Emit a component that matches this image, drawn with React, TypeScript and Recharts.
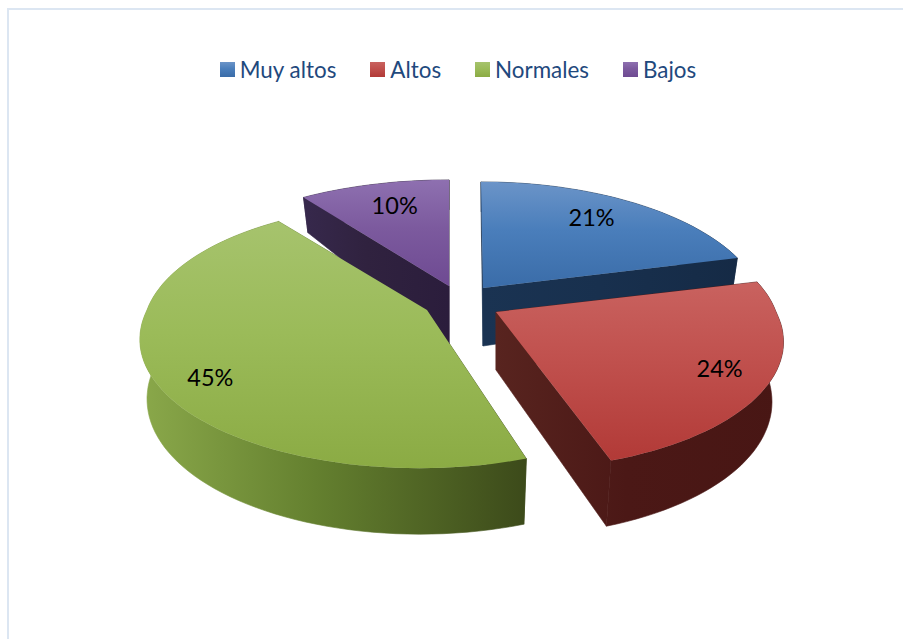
import { Legend, Pie, PieChart } from "recharts";

const categories = ["Muy altos", "Altos", "Normales", "Bajos"];
const shares = [21, 24, 45, 10];

// 3D look: pie plane is projected by hand, recharts only gives the angles
const CX = 460;
const CY = 300;
const RY = 127;
const PERSPECTIVE = 0.197;
const radiiX = [276, 280, 280, 287];
const explode = [
	[23, -12],
	[36, 12],
	[-33, 10],
	[-11, -14],
];
// sideways lean of each slice at the front and back, the original camera is slightly rotated
const leanFront = [0, 9, -7.5, 0];
const leanBack = [-2, 10, -8, 0];
const wallShrink = [0.97, 0.96, 0.975, 0.97];
const labelSpots = [
	[0.67, 7, -10],
	[0.84, -4, 0],
	[0.8, 1, 17],
	[0.75, 4, -2],
];
const topStops = [
	["#6b94c8", "#4a7ebb", "#3a6ca8"],
	["#c9625f", "#c0504d", "#b23a37"],
	["#a6c36d", "#9bbb59", "#8bab44"],
	["#8e70b0", "#7c5a9e", "#6e4a92"],
];
const sideStops = [
	["#1a3352", "#18304e", "#152a45"],
	["#58241f", "#4b1816", "#481614"],
	["#8aa84a", "#64802f", "#3c4a1a"],
	["#37294d", "#30223f", "#2b1d3c"],
];
const sideRanges = [
	[0, 260],
	[0, 290],
	[-285, 100],
	[-150, 0],
];

const data = categories.map((name, i) => ({
	name,
	value: shares[i],
	fill: `url(#top${i})`,
}));

function project(i: number, angle: number, r = 1) {
	const rad = (angle * Math.PI) / 180;
	const u = r * Math.cos(rad);
	const v = r * Math.sin(rad);
	const w = 1 / (1 + PERSPECTIVE * v);
	const lean = v < 0 ? -v * leanFront[i] : v * leanBack[i];
	return { x: radiiX[i] * u * w + lean, y: -RY * v * w, v };
}

function arcPoints(i: number, a: number, b: number) {
	const steps = Math.max(2, Math.ceil(Math.abs(a - b) / 2));
	const pts = [];
	for (let s = 0; s <= steps; s++) pts.push(project(i, a + ((b - a) * s) / steps));
	return pts;
}

function drop(i: number, p: { x: number; y: number; v: number }) {
	const depth = p.v >= 0 ? 58 - 28 * p.v : 58 - 8 * p.v;
	return { x: p.x * wallShrink[i], y: p.y + depth, v: p.v };
}

const toPath = (pts: { x: number; y: number }[]) =>
	"M" + pts.map((p) => `${p.x.toFixed(1)},${p.y.toFixed(1)}`).join("L") + "Z";

function TopFace(props: any) {
	const i = categories.indexOf(props.name);
	const [dx, dy] = explode[i];
	const apex = { x: 0, y: 0, v: 0 };
	const pts = [apex, ...arcPoints(i, props.startAngle, props.endAngle)];
	return (
		<path
			d={toPath(pts)}
			fill={`url(#top${i})`}
			transform={`translate(${CX + dx},${CY + dy})`}
		/>
	);
}

function SideFaces(props: any) {
	const i = categories.indexOf(props.name);
	const [dx, dy] = explode[i];
	const apex = { x: 0, y: 0, v: 0 };
	const arc = arcPoints(i, props.startAngle, props.endAngle);
	const first = arc[0];
	const last = arc[arc.length - 1];
	const fill = `url(#side${i})`;
	return (
		<g
			transform={`translate(${CX + dx},${CY + dy})`}
			fill={fill}
			stroke={fill}
			strokeWidth={0.6}
		>
			<path d={toPath([apex, first, drop(i, first), drop(i, apex)])} />
			<path d={toPath([apex, last, drop(i, last), drop(i, apex)])} />
			<path d={toPath([...arc, ...[...arc].reverse().map((p) => drop(i, p))])} />
		</g>
	);
}

function SliceLabel(props: any) {
	const i = categories.indexOf(props.name);
	const [dx, dy] = explode[i];
	const [r, nudgeX, nudgeY] = labelSpots[i];
	const p = project(i, (props.startAngle + props.endAngle) / 2, r);
	return (
		<text
			x={CX + dx + p.x + nudgeX}
			y={CY + dy + p.y + nudgeY}
			fill="#000"
			fontFamily="Lato"
			fontSize={23.5}
			textAnchor="middle"
			dominantBaseline="central"
		>
			{shares[i]}%
		</text>
	);
}

function LegendRow({ payload }: any) {
	// two Pie layers feed the legend, keep one entry per category
	const entries = categories
		.map((name) => (payload ?? []).find((p: any) => p.value === name))
		.filter(Boolean);
	return (
		<div style={{ display: "flex", justifyContent: "center", gap: 34, whiteSpace: "nowrap" }}>
			{entries.map((entry: any) => (
				<div key={entry.value} style={{ display: "flex", alignItems: "center", gap: 5 }}>
					<svg width={15} height={15}>
						<rect width={15} height={15} fill={entry.color} />
					</svg>
					<span style={{ color: "#1f497d", fontFamily: "Lato", fontSize: 22.4 }}>{entry.value}</span>
				</div>
			))}
		</div>
	);
}

export default function App() {
	return (
		<div style={{ position: "absolute", left: 0, top: 0, width: 903, height: 639, overflow: "hidden", background: "#fff" }}>
			<div
				style={{
					position: "absolute",
					left: 7,
					top: 8,
					width: 896,
					height: 631,
					borderLeft: "2px solid #dce6f2",
					borderTop: "2px solid #dce6f2",
				}}
			/>
			<svg width={0} height={0} style={{ position: "absolute" }}>
				<defs>
					{topStops.map((stops, i) => (
						<linearGradient key={i} id={`top${i}`} x1="0" y1="0" x2="0" y2="1">
							<stop offset="0" stopColor={stops[0]} />
							<stop offset="0.45" stopColor={stops[1]} />
							<stop offset="1" stopColor={stops[2]} />
						</linearGradient>
					))}
					{sideStops.map((stops, i) => (
						<linearGradient
							key={i}
							id={`side${i}`}
							gradientUnits="userSpaceOnUse"
							x1={sideRanges[i][0]}
							y1={0}
							x2={sideRanges[i][1]}
							y2={0}
						>
							<stop offset="0" stopColor={stops[0]} />
							<stop offset="0.45" stopColor={stops[1]} />
							<stop offset="1" stopColor={stops[2]} />
						</linearGradient>
					))}
				</defs>
			</svg>
			<PieChart width={903} height={639} style={{ position: "absolute", left: 0, top: 0 }}>
				<Pie
					data={data}
					dataKey="value"
					nameKey="name"
					cx={CX}
					cy={CY}
					outerRadius={282}
					startAngle={90}
					endAngle={-270}
					legendType="none"
					shape={SideFaces}
					stroke="none"
					isAnimationActive={false}
				/>
				<Pie
					data={data}
					dataKey="value"
					nameKey="name"
					cx={CX}
					cy={CY}
					outerRadius={282}
					startAngle={90}
					endAngle={-270}
					legendType="rect"
					shape={TopFace}
					label={SliceLabel}
					labelLine={false}
					stroke="none"
					isAnimationActive={false}
				/>
				<Legend
					content={LegendRow}
					layout="horizontal"
					verticalAlign="top"
					wrapperStyle={{ position: "absolute", top: 56, left: 0, width: 916 }}
				/>
			</PieChart>
		</div>
	);
}
